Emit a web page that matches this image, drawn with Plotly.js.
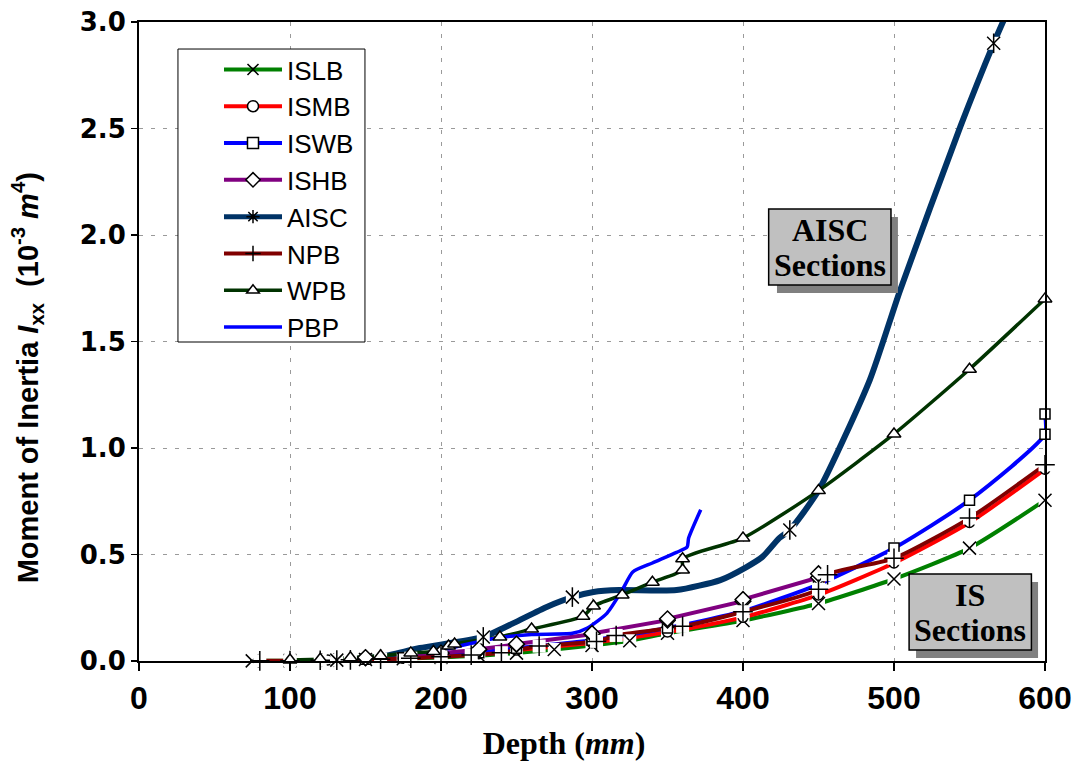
<!DOCTYPE html>
<html>
<head>
<meta charset="utf-8">
<script src="https://cdn.plot.ly/plotly-3.0.1.min.js"></script>
<style>html,body{margin:0;padding:0;background:#fff;}#chart{width:1077px;height:771px;}</style>
</head>
<body>
<div id="chart"></div>
<script>
// Depth in mm, Ixx in 10^-3 m^4
const depthISLB = [75,100,125,150,175,200,225,250,275,300,325,350,400,450,500,550,600];
const ixxISLB   = [0.0007,0.0017,0.0041,0.0069,0.011,0.017,0.025,0.037,0.054,0.073,0.095,0.13,0.19,0.27,0.385,0.53,0.755];

const depthISMB = [100,125,150,175,200,225,250,300,350,400,450,500,550,600];
const ixxISMB   = [0.0026,0.0045,0.0073,0.0127,0.0224,0.0344,0.0513,0.086,0.136,0.205,0.31,0.46,0.65,0.90];

const depthISWB = [150,175,200,225,250,300,350,400,450,500,550,600,600];
const ixxISWB   = [0.0084,0.0147,0.0262,0.0392,0.0594,0.098,0.155,0.234,0.36,0.53,0.755,1.065,1.16];

const depthISHB = [150,150,200,200,225,225,250,250,300,300,350,350,400,400,450,450];
const ixxISHB   = [0.0146,0.0164,0.0361,0.0372,0.0528,0.055,0.0774,0.0798,0.1255,0.1295,0.1916,0.198,0.281,0.289,0.392,0.41];

const depthAISC = [131,160,186,228,248,270,287,301,318,356,385,402,413,424,431,450,484,504,544,566,574];
const ixxAISC   = [0.004,0.02,0.061,0.113,0.178,0.254,0.30,0.324,0.333,0.333,0.38,0.44,0.49,0.577,0.615,0.80,1.32,1.74,2.51,2.90,3.03];
const depthAISCmark = [131,228,287,431,566];
const ixxAISCmark   = [0.004,0.113,0.30,0.615,2.90];

const depthNPB = [80,100,120,140,160,180,200,220,240,265,303,316,360,400,450,456,500,550,600];
const ixxNPB   = [0.0008,0.0017,0.0032,0.0054,0.0087,0.0132,0.0194,0.0277,0.0389,0.07,0.092,0.12,0.1627,0.2313,0.337,0.405,0.482,0.671,0.921];

const depthWPB = [100,120,140,160,180,195,205,209,239,260,294,301,320,340,360,360,400,450,500,550,600];
const ixxWPB   = [0.0045,0.0086,0.015,0.025,0.038,0.045,0.07,0.08,0.113,0.15,0.21,0.258,0.31,0.37,0.427,0.48,0.577,0.80,1.066,1.37,1.70];

const depthPBP = [200,215,239,260,287,297,310,320,327,340,356,363,364,372];
const ixxPBP   = [0.05,0.075,0.11,0.125,0.13,0.155,0.225,0.333,0.418,0.46,0.51,0.535,0.577,0.71];

const seriesNames = ['ISLB','ISMB','ISWB','ISHB','AISC','NPB','WPB','PBP'];

const C = {ISLB:'#008000', ISMB:'#FF0000', ISWB:'#0000FF', ISHB:'#800080', AISC:'#003366', NPB:'#800000', WPB:'#003300', PBP:'#0000FF'};
const W = {ISLB:4, ISMB:4, ISWB:4, ISHB:4, AISC:6, NPB:4, WPB:3.5, PBP:3.5};
const SHAPE = {ISLB:'spline', ISMB:'spline', ISWB:'spline', ISHB:'linear', AISC:'spline', NPB:'spline', WPB:'spline', PBP:'spline'};

const lineData = {
  ISLB:[depthISLB, ixxISLB], ISMB:[depthISMB, ixxISMB], ISWB:[depthISWB, ixxISWB], ISHB:[depthISHB, ixxISHB],
  AISC:[depthAISC, ixxAISC], NPB:[depthNPB, ixxNPB], WPB:[depthWPB, ixxWPB], PBP:[depthPBP, ixxPBP]
};
const markData = {
  ISLB:[depthISLB, ixxISLB], ISMB:[depthISMB, ixxISMB], ISWB:[depthISWB, ixxISWB], ISHB:[depthISHB, ixxISHB],
  AISC:[depthAISCmark, ixxAISCmark], NPB:[depthNPB, ixxNPB], WPB:[depthWPB, ixxWPB]
};
const M = {
  ISLB:[['x-thin-open',13]], ISMB:[['circle',10,'#fff']], ISWB:[['square',10,'#fff']], ISHB:[['diamond',12,'#fff']],
  AISC:[['x-thin-open',13],['line-ns-open',14]], NPB:[['cross-thin-open',14]], WPB:[['triangle-up',12,'#fff']]
};
const needsBg = {ISLB:true, AISC:true, NPB:true};
const legendSym = {ISLB:'x-thin-open', ISMB:'circle', ISWB:'square', ISHB:'diamond', AISC:'asterisk-open', NPB:'cross-thin-open', WPB:'triangle-up', PBP:null};

const traces = [];
seriesNames.forEach(n => {
  traces.push({x:lineData[n][0], y:lineData[n][1], type:'scatter', mode:'lines', showlegend:false,
    line:{color:C[n], width:W[n], shape:SHAPE[n], smoothing:0.6}, hoverinfo:'skip'});
});
seriesNames.forEach(n => {
  if (!markData[n]) return;
  const [xs, ys] = markData[n];
  if (needsBg[n]) traces.push({x:xs, y:ys, type:'scatter', mode:'markers', showlegend:false, hoverinfo:'skip',
    marker:{symbol:'square', size:13, color:'#fff', line:{width:0}}, cliponaxis:false});
  M[n].forEach(s => {
    traces.push({x:xs, y:ys, type:'scatter', mode:'markers', showlegend:false, hoverinfo:'skip', cliponaxis:false,
      marker:{symbol:s[0], size:s[1], color:s[2] || '#000', line:{color:'#000', width:1.5}}});
  });
});
seriesNames.forEach(n => {
  const t = {x:[null], y:[null], type:'scatter', name:n, showlegend:true,
    mode: legendSym[n] ? 'lines+markers' : 'lines', line:{color:C[n], width:Math.min(W[n],5)}};
  if (legendSym[n]) t.marker = {symbol:legendSym[n], size:11, color: (legendSym[n].indexOf('open')>=0 ? '#000' : '#fff'), line:{color:'#000', width:1.5}};
  traces.push(t);
});

const gridStyle = {showgrid:true, gridcolor:'#9a9a9a', gridwidth:1, griddash:'4px,8px'};
const layout = {
  width:1077, height:771,
  margin:{l:139, r:32, t:22, b:110},
  paper_bgcolor:'#fff', plot_bgcolor:'#fff',
  showlegend:true,
  legend:{x:0.0883, y:0.9624, xanchor:'left', yanchor:'top', bgcolor:'rgba(0,0,0,0)', borderwidth:0,
    font:{family:'Liberation Sans, Arial, sans-serif', size:26, color:'#000'}, itemwidth:58, tracegroupgap:0},
  xaxis: Object.assign({range:[0,600], dtick:100, tick0:0, ticks:'outside', ticklen:8, tickwidth:1.5, tickcolor:'#000',
    showline:true, linecolor:'#000', linewidth:2, mirror:true, zeroline:false,
    tickfont:{family:'Liberation Sans, Arial, sans-serif', size:32, weight:'bold', color:'#000'},
    title:{text:'Depth (<i>mm</i>)&nbsp;&nbsp;&nbsp;&nbsp;&nbsp;&nbsp;&nbsp;', standoff:16,
      font:{family:'Liberation Serif, Times New Roman, serif', size:32, weight:'bold', color:'#000'}}}, gridStyle),
  yaxis: Object.assign({range:[0,3], dtick:0.5, tick0:0, tickformat:'.1f', ticks:'outside', ticklen:6, tickwidth:1.5, tickcolor:'#000',
    showline:true, linecolor:'#000', linewidth:2, mirror:true, zeroline:false,
    tickfont:{family:'DejaVu Sans, sans-serif', size:26, weight:'bold', color:'#000'},
    title:{text:'Moment of Inertia <i>I</i><sub>xx</sub>&nbsp;&nbsp;(10<sup>-3</sup> <i>m</i><sup>4</sup>)&nbsp;&nbsp;&nbsp;&nbsp;&nbsp;&nbsp;&nbsp;&nbsp;&nbsp;', standoff:33,
      font:{family:'Liberation Sans, Arial, sans-serif', size:29, weight:'bold', color:'#000'}}}, gridStyle),
  shapes:[
    {type:'rect', xref:'paper', yref:'paper', x0:0.0430, x1:0.2494, y0:0.4992, y1:0.9577, fillcolor:'#fff', line:{color:'#000', width:1}, layer:'above'},
    {type:'rect', xref:'x', yref:'y', x0:422.5, x1:502.6, y0:1.728, y1:2.085, fillcolor:'#808080', line:{width:0}},
    {type:'rect', xref:'x', yref:'y', x0:417, x1:498, y0:1.765, y1:2.122, fillcolor:'#C0C0C0', line:{color:'#000', width:1.5}},
    {type:'rect', xref:'x', yref:'y', x0:514.6, x1:595.4, y0:0.014, y1:0.371, fillcolor:'#808080', line:{width:0}},
    {type:'rect', xref:'x', yref:'y', x0:510, x1:591, y0:0.052, y1:0.408, fillcolor:'#C0C0C0', line:{color:'#000', width:1.5}}
  ],
  annotations:[
    {xref:'x', yref:'y', x:457.5, y:2.024, text:'AISC', showarrow:false, font:{family:'Liberation Serif, serif', size:32, weight:'bold', color:'#000'}},
    {xref:'x', yref:'y', x:457.5, y:1.86, text:'Sections', showarrow:false, font:{family:'Liberation Serif, serif', size:32, weight:'bold', color:'#000'}},
    {xref:'x', yref:'y', x:550.5, y:0.31, text:'IS', showarrow:false, font:{family:'Liberation Serif, serif', size:32, weight:'bold', color:'#000'}},
    {xref:'x', yref:'y', x:550.5, y:0.146, text:'Sections', showarrow:false, font:{family:'Liberation Serif, serif', size:32, weight:'bold', color:'#000'}}
  ],
  hovermode:false
};
Plotly.newPlot('chart', traces, layout, {displayModeBar:false, staticPlot:true});
</script>
</body>
</html>
